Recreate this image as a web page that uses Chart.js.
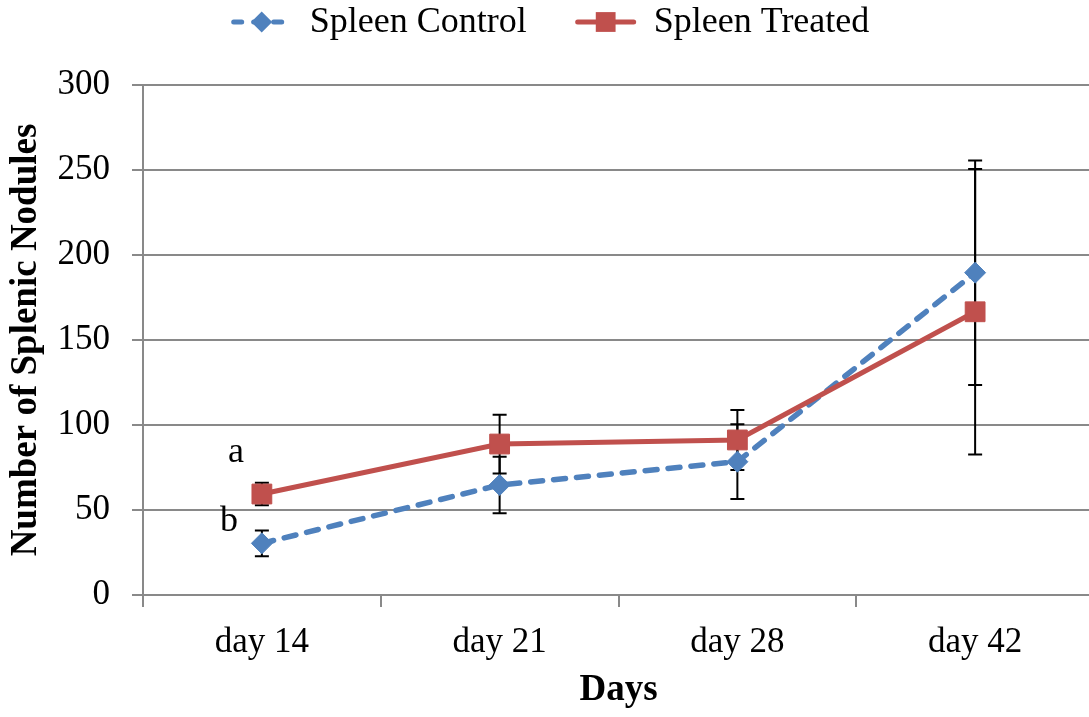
<!DOCTYPE html>
<html>
<head>
<meta charset="utf-8">
<title>Splenic nodules</title>
<script src="https://cdn.jsdelivr.net/npm/chart.js@4.4.1/dist/chart.umd.min.js"></script>
<style>
  html, body { margin: 0; padding: 0; background: #fff; overflow: hidden; }
  #wrap { width: 1094px; height: 717px; }
</style>
</head>
<body>
<div id="wrap"><canvas id="noduleChart" width="1094" height="717"></canvas></div>
<script>
// data
const days = ['day 14', 'day 21', 'day 28', 'day 42'];
const controlValues = [30.4, 64.7, 78.4, 189.6];
const controlErrors = [7.6, 16.6, 22, 66];
const treatedValues = [59.4, 88.8, 91.2, 166.6];
const treatedErrors = [6.6, 17.3, 17.6, 84];
const yTicks = [0, 50, 100, 150, 200, 250, 300];
const letters = ['a', 'b'];
const letterValues = [84, 43.5];

const serif = "'Liberation Serif', 'Times New Roman', serif";
const blue = '#4F81BD';
const red = '#C0504D';
const axisGrey = '#898989';
const errorsBySeries = [controlErrors, treatedErrors];

function markerPath(ctx, style, x, y, r) {
  ctx.beginPath();
  if (style === 'rectRot') {
    ctx.moveTo(x, y - r);
    ctx.lineTo(x + r, y);
    ctx.lineTo(x, y + r);
    ctx.lineTo(x - r, y);
  } else {
    const s = r * Math.SQRT1_2;
    ctx.rect(x - s, y - s, 2 * s, 2 * s);
  }
  ctx.closePath();
}

// black error bars under the markers
const errorBars = {
  id: 'errorBars',
  beforeDatasetsDraw(chart) {
    const { ctx, scales: { x, y } } = chart;
    ctx.save();
    ctx.strokeStyle = '#000';
    ctx.lineWidth = 2;
    chart.data.datasets.forEach((ds, di) => {
      ds.data.forEach((v, i) => {
        const e = errorsBySeries[di][i];
        const px = x.getPixelForValue(i);
        const top = y.getPixelForValue(v + e);
        const bot = y.getPixelForValue(v - e);
        ctx.beginPath();
        ctx.moveTo(px, top); ctx.lineTo(px, bot);
        ctx.moveTo(px - 7, top); ctx.lineTo(px + 7, top);
        ctx.moveTo(px - 7, bot); ctx.lineTo(px + 7, bot);
        ctx.stroke();
      });
    });
    ctx.restore();
  }
};

// the "a" / "b" significance letters next to day 14
const letterMarks = {
  id: 'letterMarks',
  afterDatasetsDraw(chart) {
    const { ctx, scales: { x, y } } = chart;
    const shift = [-26, -33];
    ctx.save();
    ctx.font = '36px ' + serif;
    ctx.fillStyle = '#000';
    ctx.textAlign = 'center';
    ctx.textBaseline = 'middle';
    letters.forEach((t, i) => {
      ctx.fillText(t, x.getPixelForValue(0) + shift[i], y.getPixelForValue(letterValues[i]));
    });
    ctx.restore();
  }
};

// legend row at the top: line sample with marker, then label
const legendRow = {
  id: 'legendRow',
  afterDraw(chart) {
    const ctx = chart.ctx;
    const sampleW = 62, textGap = 17, itemGap = 48, cy = 22;
    ctx.save();
    ctx.font = '36px ' + serif;
    ctx.textBaseline = 'middle';
    const items = chart.data.datasets.map(ds => ({ ds, w: ctx.measureText(ds.label).width }));
    const total = items.reduce((s, it) => s + sampleW + textGap + it.w, 0) + itemGap * (items.length - 1);
    let cx = 550 - total / 2;
    items.forEach(({ ds, w }) => {
      ctx.strokeStyle = ds.borderColor;
      ctx.lineWidth = 5;
      ctx.lineCap = 'round';
      ctx.setLineDash(ds.borderDash && ds.borderDash.length ? [8, 12] : []);
      ctx.beginPath();
      ctx.moveTo(cx + 3, cy);
      ctx.lineTo(cx + sampleW - 3, cy);
      ctx.stroke();
      ctx.setLineDash([]);
      ctx.fillStyle = ds.backgroundColor;
      markerPath(ctx, ds.pointStyle, cx + sampleW / 2, cy, ds.pointRadius);
      ctx.fill();
      ctx.fillStyle = '#000';
      ctx.fillText(ds.label, cx + sampleW + textGap, cy + 1);
      cx += sampleW + textGap + w + itemGap;
    });
    ctx.restore();
  }
};

new Chart(document.getElementById('noduleChart'), {
  type: 'line',
  data: {
    labels: days,
    datasets: [{
      label: 'Spleen Control',
      data: controlValues,
      borderColor: blue,
      backgroundColor: blue,
      borderWidth: 5.5,
      borderDash: [12, 11],
      borderCapStyle: 'round',
      pointStyle: 'rectRot',
      pointRadius: 10.5,
      pointBorderWidth: 1,
      tension: 0,
      order: 1
    }, {
      label: 'Spleen Treated',
      data: treatedValues,
      borderColor: red,
      backgroundColor: red,
      borderWidth: 5,
      pointStyle: 'rect',
      pointRadius: 14,
      pointBorderWidth: 1,
      tension: 0,
      order: 0
    }]
  },
  options: {
    responsive: false,
    animation: false,
    // no extra room for point overflow: the plot runs to the frame edge
    layout: { autoPadding: false, padding: { top: 85, left: 0, right: 0, bottom: 0 } },
    plugins: {
      legend: { display: false },
      tooltip: { enabled: false }
    },
    scales: {
      x: {
        offset: true,
        afterFit: s => { s.height = 122; },
        grid: { drawOnChartArea: false, offset: true, tickLength: 12, color: axisGrey, lineWidth: 2 },
        border: { color: axisGrey, width: 2 },
        ticks: { color: '#000', font: { family: serif, size: 35 }, padding: 15 },
        title: { display: true, text: 'Days', color: '#000', font: { family: serif, size: 37, weight: 'bold' }, padding: { top: 0, bottom: 4 } }
      },
      y: {
        min: 0,
        max: 300,
        afterFit: s => { s.width = 143; },
        afterBuildTicks: s => { s.ticks = yTicks.map(v => ({ value: v })); },
        grid: { color: axisGrey, lineWidth: 2, tickLength: 11 },
        border: { color: axisGrey, width: 2 },
        ticks: { color: '#000', font: { family: serif, size: 35 }, padding: 22 },
        title: { display: true, text: 'Number of Splenic Nodules', color: '#000', font: { family: serif, size: 37, weight: 'bold' }, padding: { top: 4, bottom: 0 } }
      }
    }
  },
  plugins: [errorBars, letterMarks, legendRow]
});
</script>
</body>
</html>
